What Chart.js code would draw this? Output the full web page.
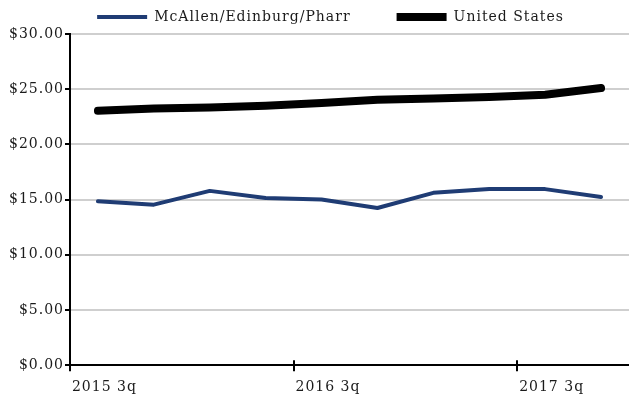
<!DOCTYPE html>
<html>
<head>
<meta charset="utf-8">
<title>Wages - McAllen/Edinburg/Pharr vs United States</title>
<script src="https://cdn.jsdelivr.net/npm/chart.js@4.4.1/dist/chart.umd.min.js"></script>
<style>
    html, body { margin: 0; padding: 0; background: #fff; }
    .chart-box { width: 629px; height: 398px; position: relative; }
</style>
</head>
<body>
<div class="chart-box">
    <canvas class="my-chart"></canvas>
</div>
<script>
// quarters on the x axis
const quarters = ["2015 3q", "2015 4q", "2016 1q", "2016 2q", "2016 3q", "2016 4q", "2017 1q", "2017 2q", "2017 3q", "2017 4q"];

// average hourly wage
const mcallenValues = [14.85, 14.54, 15.79, 15.15, 15.0, 14.24, 15.61, 15.95, 15.95, 15.24];
const usValues = [23.05, 23.25, 23.35, 23.5, 23.75, 24.05, 24.15, 24.3, 24.5, 25.1];

const seriesNames = ["McAllen/Edinburg/Pharr", "United States"];
const yTicks = [0, 5, 10, 15, 20, 25, 30];

const fontFamily = "'DejaVu Serif', 'Liberation Serif', serif";
const textColor = "#1a1a1a";

// the original font is wider than DejaVu, so add a bit of letter spacing
const spacingPlugin = {
    id: "spacing",
    beforeUpdate(chart) { chart.ctx.letterSpacing = "1px"; },
    beforeDraw(chart) { chart.ctx.letterSpacing = "1px"; },
};

// legend sits a little right of centre in the original
const legendShift = {
    id: "legendShift",
    afterLayout(chart) {
        chart.legend.left += 12;
        chart.legend.right += 12;
    },
};

// small tick marks that cross the x axis line (upper half)
const crossTicks = {
    id: "crossTicks",
    afterDraw(chart) {
        const x = chart.scales.x;
        const ctx = chart.ctx;
        const half = (x.getPixelForValue(1) - x.getPixelForValue(0)) / 2;
        ctx.save();
        ctx.strokeStyle = "#000";
        ctx.lineWidth = 2;
        quarters.forEach((q, i) => {
            if (i % 4 !== 0) return;
            const px = Math.round(x.getPixelForValue(i) - half);
            ctx.beginPath();
            ctx.moveTo(px, x.top - 5);
            ctx.lineTo(px, x.top);
            ctx.stroke();
        });
        ctx.restore();
    },
};

document.addEventListener("DOMContentLoaded", function () {
    const ctx = document.querySelector(".my-chart");

    new Chart(ctx, {
        type: "line",
        data: {
            labels: quarters,
            datasets: [
                {
                    label: seriesNames[0],
                    data: mcallenValues,
                    borderColor: "#1f3c74",
                    backgroundColor: "#1f3c74",
                    borderWidth: 4,
                    borderCapStyle: "round",
                    borderJoinStyle: "round",
                    pointRadius: 0,
                    tension: 0,
                },
                {
                    label: seriesNames[1],
                    data: usValues,
                    borderColor: "#000",
                    backgroundColor: "#000",
                    borderWidth: 8,
                    borderCapStyle: "round",
                    borderJoinStyle: "round",
                    pointRadius: 0,
                    tension: 0,
                },
            ],
        },
        options: {
            responsive: true,
            maintainAspectRatio: false,
            animation: false,
            layout: {
                padding: { left: 8, right: 0, top: -36, bottom: -6 },
            },
            plugins: {
                legend: {
                    position: "top",
                    labels: {
                        usePointStyle: true,
                        pointStyle: "line",
                        pointStyleWidth: 50,
                        boxHeight: 8,
                        padding: 46,
                        color: textColor,
                        font: { family: fontFamily, size: 14, lineHeight: 1.8 },
                    },
                },
                tooltip: { enabled: false },
            },
            scales: {
                x: {
                    offset: true,
                    border: { display: true, color: "#000", width: 2 },
                    grid: {
                        offset: true,
                        drawOnChartArea: false,
                        tickLength: 6,
                        lineWidth: 2,
                        tickColor: (c) => (c.index % 4 === 0 ? "#000" : "rgba(0,0,0,0)"),
                    },
                    ticks: {
                        autoSkip: false,
                        maxRotation: 0,
                        align: "start",
                        labelOffset: -26,
                        padding: 8,
                        color: textColor,
                        font: { family: fontFamily, size: 14 },
                        callback: function (val, index) {
                            return index % 4 === 0 ? quarters[index] : "";
                        },
                    },
                },
                y: {
                    min: 0,
                    max: 30,
                    afterBuildTicks: function (axis) {
                        axis.ticks = yTicks.map((v) => ({ value: v }));
                    },
                    border: { display: true, color: "#000", width: 2 },
                    grid: {
                        color: "#cfcfcf",
                        lineWidth: 2,
                        tickColor: "#000",
                        tickLength: 5,
                    },
                    ticks: {
                        padding: 1,
                        color: textColor,
                        font: { family: fontFamily, size: 14 },
                        callback: function (value) {
                            return "$" + Number(value).toFixed(2);
                        },
                    },
                },
            },
        },
        plugins: [spacingPlugin, legendShift, crossTicks],
    });
});
</script>
</body>
</html>
